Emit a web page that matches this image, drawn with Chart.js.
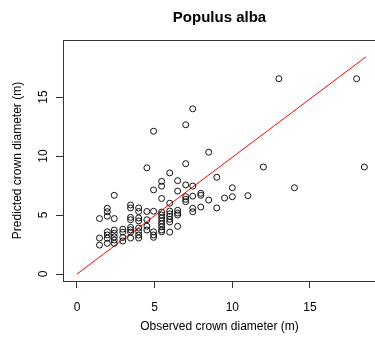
<!DOCTYPE html>
<html><head><meta charset="utf-8">
<script src="https://cdn.jsdelivr.net/npm/chart.js@4/dist/chart.umd.min.js"></script>
<style>
html,body{margin:0;padding:0;overflow:hidden;background:#fff;width:375px;height:342px}
canvas{display:block}
</style>
</head><body>
<canvas id="c" width="440" height="342"></canvas>
<script>
const chartTitle = 'Populus alba';
const xLabel = 'Observed crown diameter (m)';
const yLabel = 'Predicted crown diameter (m)';
const xTicks = [0, 5, 10, 15];
const yTicks = [0, 5, 10, 15];

const observed = [
  1.45, 1.45, 1.45,
  1.95, 1.95, 1.95, 1.95, 1.95, 1.95, 1.95,
  2.4, 2.4, 2.4, 2.4, 2.4, 2.4, 2.4,
  2.95, 2.95, 2.95, 2.95,
  3.45, 3.45, 3.45, 3.45, 3.45, 3.45, 3.45, 3.45,
  3.97, 3.97, 3.97, 3.97, 3.97, 3.97, 3.97, 3.97,
  4.5, 4.5, 4.5, 4.5, 4.5,
  4.93, 4.93, 4.93, 4.93, 4.93, 4.93,
  5.45, 5.45, 5.45, 5.45, 5.45, 5.45, 5.45, 5.45, 5.45, 5.45, 5.45,
  5.97, 5.97, 5.97, 5.97, 5.97, 5.97, 5.97, 5.97,
  6.48, 6.48, 6.48, 6.48, 6.48, 6.48,
  7.0, 7.0, 7.0, 7.0, 7.0, 7.0,
  7.45, 7.45, 7.45, 7.45, 7.45,
  7.97, 7.97, 7.97,
  8.48, 8.48,
  9.0, 9.0,
  9.5,
  10.0, 10.0,
  11.0, 12.0, 13.0, 14.0, 18.0, 18.5
];
const predicted = [
  4.7, 3.05, 2.45,
  5.57, 5.28, 4.9, 3.58, 3.31, 3.03, 2.6,
  6.67, 4.7, 3.73, 3.45, 3.15, 2.88, 2.6,
  3.8, 3.55, 3.1, 2.8,
  5.85, 5.6, 4.8, 4.6, 3.95, 3.75, 3.55, 3.05,
  5.6, 5.3, 4.75, 4.5, 3.9, 3.6, 3.3, 3.05,
  9.0, 5.3, 4.6, 4.05, 3.73,
  12.1, 7.13, 5.32, 3.58, 3.31, 3.11,
  7.85, 7.45, 6.4, 5.25, 5.0, 4.75, 4.5, 4.25, 4.0, 3.73, 3.58,
  8.57, 6.0, 5.34, 5.1, 4.88, 4.64, 4.41, 3.55,
  7.91, 7.03, 5.4, 5.17, 5.0, 4.04,
  12.65, 9.35, 7.55, 6.55, 6.33, 6.13,
  14.0, 7.45, 6.6, 5.57, 5.28,
  6.84, 6.67, 5.68,
  10.32, 6.27,
  8.2, 5.6,
  6.44,
  7.31, 6.55,
  6.64, 9.07, 16.55, 7.31, 16.55, 9.07
];
const lineObserved = [0, 18.6];
const linePredicted = [0, 18.4];

const FONT = '"Liberation Sans", Arial, Helvetica, sans-serif';

const boxPlugin = {
  id: 'box',
  afterDraw(chart) {
    const a = chart.chartArea, ctx = chart.ctx;
    ctx.save();
    ctx.strokeStyle = '#333';
    ctx.lineWidth = 1;
    ctx.strokeRect(Math.round(a.left) + 0.5, Math.round(a.top) + 0.5,
                   Math.round(a.right - a.left), Math.round(a.bottom - a.top));
    ctx.restore();
  }
};

new Chart(document.getElementById('c'), {
  data: {
    datasets: [
      {
        type: 'scatter',
        data: observed.map((x, i) => ({x: x, y: predicted[i]})),
        pointRadius: 3,
        pointHoverRadius: 3,
        borderWidth: 1,
        borderColor: '#111',
        backgroundColor: 'rgba(0,0,0,0)',
        order: 1
      },
      {
        type: 'line',
        data: lineObserved.map((x, i) => ({x: x, y: linePredicted[i]})),
        borderColor: '#ff0000',
        borderWidth: 1,
        pointRadius: 0,
        fill: false,
        order: 2
      }
    ]
  },
  options: {
    responsive: false,
    animation: false,
    events: [],
    layout: {padding: {left: 0, right: 64, top: 0, bottom: 0}},
    plugins: {
      legend: {display: false},
      tooltip: {enabled: false},
      title: {
        display: true,
        fullSize: false,
        text: chartTitle,
        color: '#000',
        font: {family: FONT, size: 15, weight: 'bold', lineHeight: 1.2},
        padding: {top: 9, bottom: 13}
      }
    },
    scales: {
      x: {
        type: 'linear',
        min: -0.9,
        max: 19.25,
        afterBuildTicks: s => { s.ticks = xTicks.map(v => ({value: v})); },
        afterFit: s => { s.height = 61; },
        ticks: {color: '#000', font: {family: FONT, size: 12}, padding: 12,
                maxRotation: 0, minRotation: 0, callback: v => String(v)},
        grid: {drawOnChartArea: false, drawTicks: true, tickLength: 7, color: '#333', lineWidth: 1},
        border: {display: false},
        title: {display: true, text: xLabel, color: '#000',
                font: {family: FONT, size: 12, lineHeight: 1.2}, padding: {top: 0, bottom: 8}}
      },
      y: {
        type: 'linear',
        min: -0.59,
        max: 19.83,
        afterBuildTicks: s => { s.ticks = yTicks.map(v => ({value: v})); },
        afterFit: s => { s.width = 63; },
        ticks: {color: '#000', font: {family: FONT, size: 12}, padding: 5.5,
                minRotation: 90, maxRotation: 90, crossAlign: 'center', callback: v => String(v)},
        grid: {drawOnChartArea: false, drawTicks: true, tickLength: 7, color: '#333', lineWidth: 1},
        border: {display: false},
        title: {display: true, text: yLabel, color: '#000',
                font: {family: FONT, size: 12, lineHeight: 1.2}, padding: {top: 10, bottom: 0}}
      }
    }
  },
  plugins: [boxPlugin]
});
</script>
</body></html>
